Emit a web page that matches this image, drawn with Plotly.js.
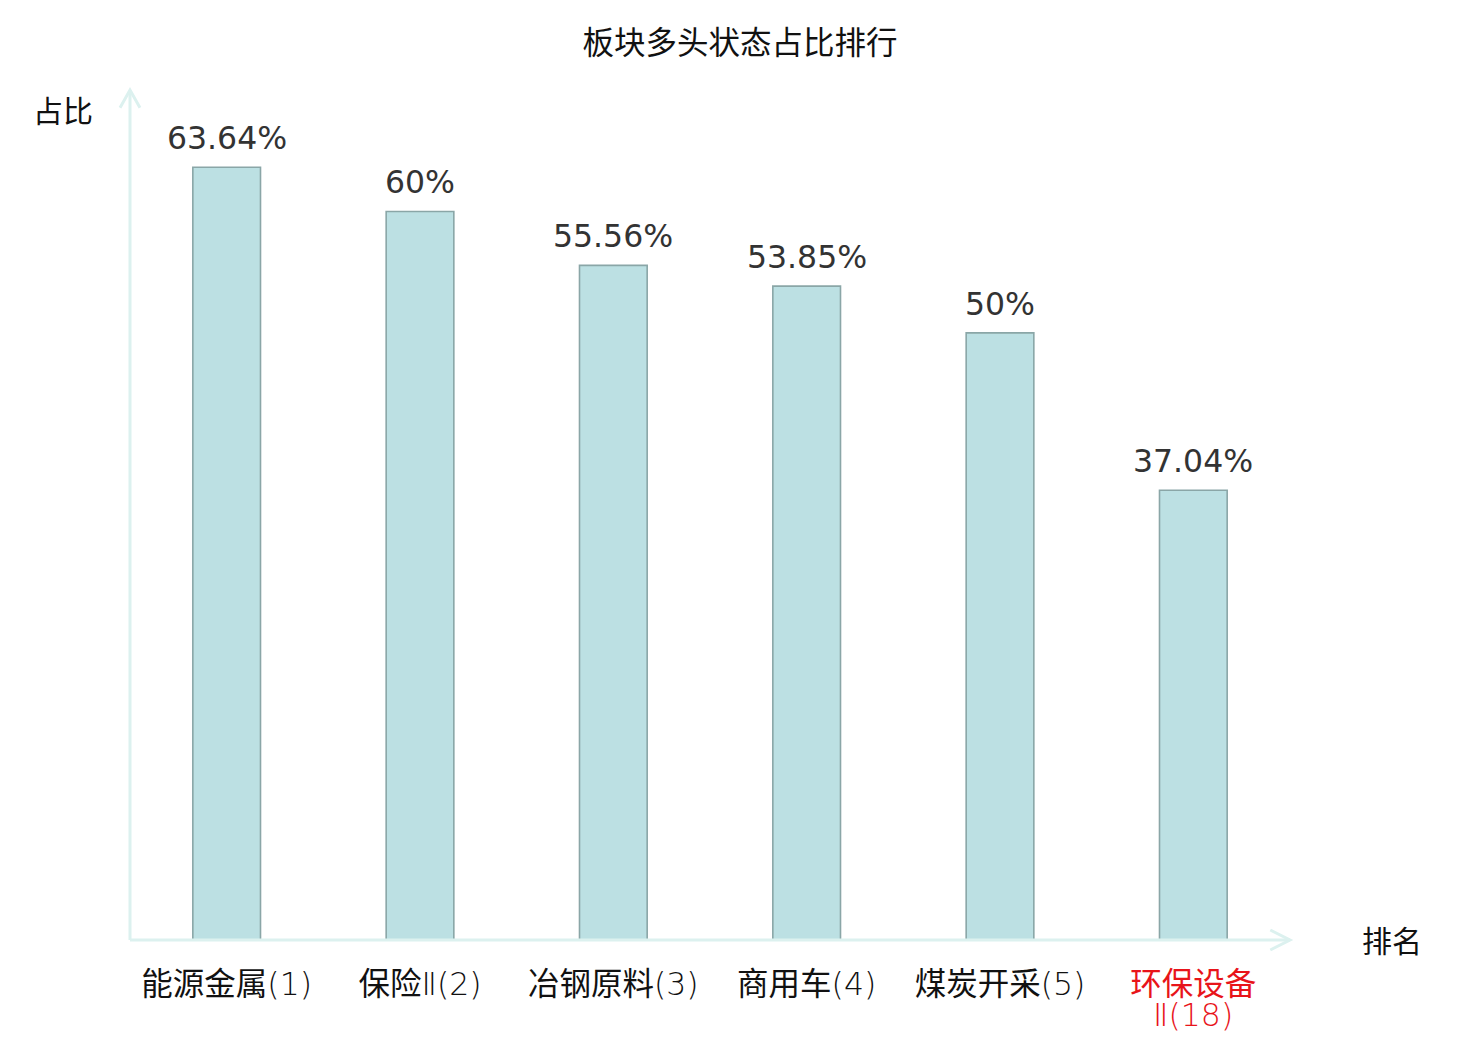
<!DOCTYPE html>
<html>
<head>
<meta charset="utf-8">
<script src="https://cdn.plot.ly/plotly-3.0.1.min.js"></script>
<style>
  html, body { margin: 0; padding: 0; background: #fff; }
  #renderTarget { width: 1480px; height: 1040px; }
</style>
</head>
<body>
<div id="renderTarget"></div>
<script>
// sectors, their rank, and share of stocks in a bullish state (%)
const sectors = ["能源金属", "保险Ⅱ", "冶钢原料", "商用车", "煤炭开采", "环保设备Ⅱ"];
const ranks = [1, 2, 3, 4, 5, 18];
const shares = [63.64, 60, 55.56, 53.85, 50, 37.04];
const valueLabels = ["63.64%", "60%", "55.56%", "53.85%", "50%", "37.04%"];
const tickLabels = [
    "能源金属(1)",
    "保险Ⅱ(2)",
    "冶钢原料(3)",
    "商用车(4)",
    "煤炭开采(5)",
    "<span style=\"fill:#e8141a\">环保设备</span>"
];
// the last label wraps onto a second line, drawn tighter than plotly's line spacing
const wrapLabel = { sector: "环保设备Ⅱ", text: "Ⅱ(18)" };

const FONT = "DejaVu Sans, Noto Sans CJK SC, sans-serif";
const LIGHT_FONT = "DejaVu Sans ExtraLight, DejaVu Sans Light, Noto Sans CJK SC, sans-serif";
const AXIS_COLOR = "#dcf1ef";

const data = [{
    x: sectors,
    y: shares,
    type: "bar",
    marker: {
        color: "#bce0e3",
        line: { color: "#8aa6a7", width: 1.6 },
    },
    hoverinfo: "skip",
}];

// value labels above bars
const valueAnnotations = sectors.map((s, i) => ({
    x: s,
    y: shares[i],
    xref: "x",
    yref: "y",
    text: valueLabels[i],
    showarrow: false,
    yanchor: "bottom",
    yshift: 9,
    font: { family: FONT, size: 31.5, color: "#333333" },
}));

const layout = {
    width: 1480,
    height: 1040,
    margin: { l: 130, r: 190, t: 90, b: 100 },
    paper_bgcolor: "#ffffff",
    plot_bgcolor: "#ffffff",
    showlegend: false,
    bargap: 0.65,
    title: {
        text: "板块多头状态占比排行",
        x: 0.5,
        xanchor: "center",
        y: 0.959,
        yanchor: "middle",
        font: { family: FONT, size: 31.5, color: "#111111" },
    },
    xaxis: {
        type: "category",
        tickmode: "array",
        tickvals: sectors,
        ticktext: tickLabels,
        tickangle: 0,
        showgrid: false,
        zeroline: false,
        showline: false,
        ticks: "",
        ticklabelstandoff: 22,
        tickfont: { family: LIGHT_FONT, size: 31.5, color: "#111111" },
        fixedrange: true,
    },
    yaxis: {
        range: [0, 70],
        showgrid: false,
        zeroline: false,
        showline: false,
        showticklabels: false,
        ticks: "",
        fixedrange: true,
    },
    shapes: [
        // y axis with open arrow head
        { type: "line", xref: "paper", yref: "paper", x0: 0, x1: 0, y0: 0, y1: 1,
          line: { color: AXIS_COLOR, width: 3 } },
        { type: "path", xref: "paper", yref: "paper",
          path: "M -0.0086,0.979 L 0,1 L 0.0086,0.979",
          line: { color: AXIS_COLOR, width: 3 } },
        // x axis with open arrow head
        { type: "line", xref: "paper", yref: "paper", x0: 0, x1: 1, y0: 0, y1: 0,
          line: { color: AXIS_COLOR, width: 3 } },
        { type: "path", xref: "paper", yref: "paper",
          path: "M 0.983,0.0118 L 1,0 L 0.983,-0.0118",
          line: { color: AXIS_COLOR, width: 3 } },
    ],
    annotations: valueAnnotations.concat([
        {
            xref: "x", yref: "paper",
            x: wrapLabel.sector, y: 0,
            yshift: -75,
            text: wrapLabel.text,
            showarrow: false,
            xanchor: "center",
            yanchor: "middle",
            font: { family: LIGHT_FONT, size: 31.5, color: "#e8141a" },
        },
        {
            xref: "paper", yref: "paper",
            x: -0.058, y: 0.975,
            text: "占比",
            showarrow: false,
            xanchor: "center",
            yanchor: "middle",
            font: { family: FONT, size: 30, color: "#111111" },
        },
        {
            xref: "paper", yref: "paper",
            x: 1.088, y: -0.002,
            text: "排名",
            showarrow: false,
            xanchor: "center",
            yanchor: "middle",
            font: { family: FONT, size: 30, color: "#111111" },
        },
    ]),
};

Plotly.newPlot("renderTarget", data, layout, { displayModeBar: false, staticPlot: true });
</script>
</body>
</html>
